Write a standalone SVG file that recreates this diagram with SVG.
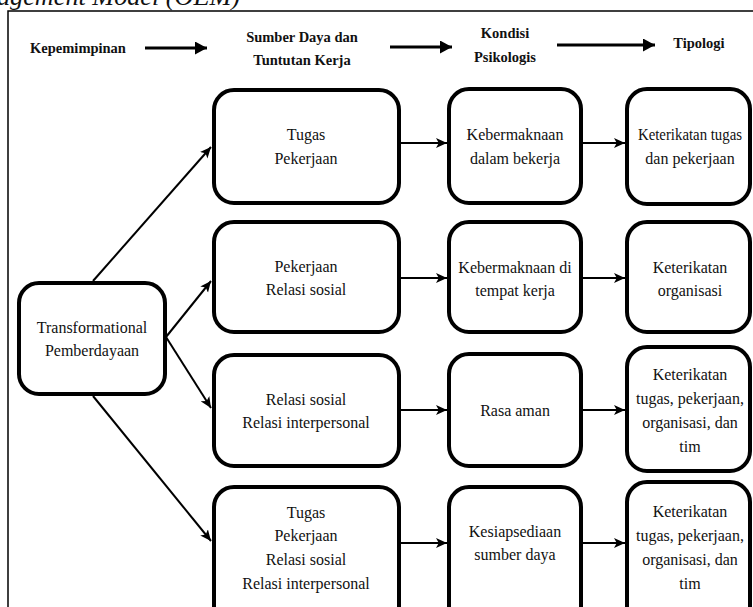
<svg xmlns="http://www.w3.org/2000/svg" width="753" height="607" viewBox="0 0 753 607">
  <style>
    .box { fill: #ffffff; stroke: #000000; stroke-width: 4; }
    .txt { font-family: "Liberation Serif", "Times New Roman", serif; font-size: 16px; fill: #111111; text-anchor: middle; }
    .hdr { font-family: "Liberation Serif", "Times New Roman", serif; font-size: 14.5px; font-weight: bold; fill: #111111; text-anchor: middle; }
    .ttl { font-family: "Liberation Serif", "Times New Roman", serif; font-size: 26px; font-style: italic; fill: #111111; }
    .frame { fill: none; stroke: #000000; stroke-width: 1.5; }
    .con { fill: none; stroke: #000000; stroke-width: 2; marker-end: url(#ah); }
    .hcon { fill: none; stroke: #000000; stroke-width: 3; marker-end: url(#hh); }
  </style>
  <defs>
    <marker id="ah" viewBox="0 0 10 10" refX="10" refY="5" markerWidth="11" markerHeight="11" markerUnits="userSpaceOnUse" orient="auto">
      <path d="M0,0.5 L10,5 L0,9.5 L2.5,5 Z" fill="#000000"/>
    </marker>
    <marker id="hh" viewBox="0 0 12 13" refX="12" refY="6.5" markerWidth="12" markerHeight="13" markerUnits="userSpaceOnUse" orient="auto">
      <path d="M0,0 L12,6.5 L0,13 Z" fill="#000000"/>
    </marker>
  </defs>

  <rect width="753" height="607" fill="#ffffff"/>

  <!-- caption line, cut by the top edge -->
  <text class="ttl" x="-3" y="5" textLength="243" lengthAdjust="spacingAndGlyphs">agement Model (OEM)</text>

  <!-- outer frame -->
  <path class="frame" d="M8,620 L8,11 L760,11"/>

  <!-- column headings -->
  <g id="headings">
    <text class="hdr" x="78" y="53">Kepemimpinan</text>
    <text class="hdr" x="302" y="42">Sumber Daya dan</text>
    <text class="hdr" x="302" y="65">Tuntutan Kerja</text>
    <text class="hdr" x="505" y="38">Kondisi</text>
    <text class="hdr" x="505" y="62">Psikologis</text>
    <text class="hdr" x="699" y="48">Tipologi</text>
  </g>

  <!-- connectors -->
  <g id="connectors">
    <line class="hcon" x1="145" y1="48" x2="207" y2="48"/>
    <line class="hcon" x1="390" y1="47" x2="452" y2="47"/>
    <line class="hcon" x1="557" y1="45" x2="655" y2="45"/>

    <line class="con" x1="93" y1="281" x2="211" y2="147"/>
    <line class="con" x1="166" y1="337" x2="211" y2="281"/>
    <line class="con" x1="166" y1="337" x2="211" y2="408"/>
    <line class="con" x1="93" y1="396" x2="211" y2="541"/>

    <line class="con" x1="401" y1="143" x2="447" y2="143"/>
    <line class="con" x1="401" y1="278" x2="447" y2="278"/>
    <line class="con" x1="401" y1="410" x2="447" y2="410"/>
    <line class="con" x1="401" y1="543" x2="447" y2="543"/>

    <line class="con" x1="583" y1="143" x2="625" y2="143"/>
    <line class="con" x1="583" y1="278" x2="625" y2="278"/>
    <line class="con" x1="583" y1="410" x2="625" y2="410"/>
    <line class="con" x1="583" y1="543" x2="625" y2="543"/>
  </g>

  <!-- leadership -->
  <g id="n-transformational">
    <rect class="box" x="19" y="283" width="146" height="111" rx="20"/>
    <text class="txt" x="92" y="333">Transformational</text>
    <text class="txt" x="92" y="356">Pemberdayaan</text>
  </g>

  <!-- resources and demands -->
  <g id="n-sd1">
    <rect class="box" x="214" y="90" width="185" height="113" rx="20"/>
    <text class="txt" x="306" y="140">Tugas</text>
    <text class="txt" x="306" y="164">Pekerjaan</text>
  </g>
  <g id="n-sd2">
    <rect class="box" x="214" y="222" width="185" height="110" rx="20"/>
    <text class="txt" x="306" y="272">Pekerjaan</text>
    <text class="txt" x="306" y="295">Relasi sosial</text>
  </g>
  <g id="n-sd3">
    <rect class="box" x="214" y="355" width="185" height="111" rx="20"/>
    <text class="txt" x="306" y="405">Relasi sosial</text>
    <text class="txt" x="306" y="428">Relasi interpersonal</text>
  </g>
  <g id="n-sd4">
    <rect class="box" x="214" y="487" width="185" height="140" rx="20"/>
    <text class="txt" x="306" y="518">Tugas</text>
    <text class="txt" x="306" y="541">Pekerjaan</text>
    <text class="txt" x="306" y="565">Relasi sosial</text>
    <text class="txt" x="306" y="589">Relasi interpersonal</text>
  </g>

  <!-- psychological conditions -->
  <g id="n-kp1">
    <rect class="box" x="449" y="89" width="132" height="114" rx="20"/>
    <text class="txt" x="515" y="140">Kebermaknaan</text>
    <text class="txt" x="515" y="164">dalam bekerja</text>
  </g>
  <g id="n-kp2">
    <rect class="box" x="449" y="222" width="132" height="110" rx="20"/>
    <text class="txt" x="515" y="273">Kebermaknaan di</text>
    <text class="txt" x="515" y="296">tempat kerja</text>
  </g>
  <g id="n-kp3">
    <rect class="box" x="449" y="354" width="132" height="112" rx="20"/>
    <text class="txt" x="515" y="416">Rasa aman</text>
  </g>
  <g id="n-kp4">
    <rect class="box" x="449" y="487" width="132" height="140" rx="20"/>
    <text class="txt" x="515" y="537">Kesiapsediaan</text>
    <text class="txt" x="515" y="560">sumber daya</text>
  </g>

  <!-- typology -->
  <g id="n-tp1">
    <rect class="box" x="627" y="89" width="123" height="115" rx="20"/>
    <text class="txt" x="690" y="140" textLength="104" lengthAdjust="spacingAndGlyphs">Keterikatan tugas</text>
    <text class="txt" x="690" y="164">dan pekerjaan</text>
  </g>
  <g id="n-tp2">
    <rect class="box" x="627" y="222" width="123" height="110" rx="20"/>
    <text class="txt" x="690" y="273">Keterikatan</text>
    <text class="txt" x="690" y="296">organisasi</text>
  </g>
  <g id="n-tp3">
    <rect class="box" x="627" y="347" width="123" height="124" rx="20"/>
    <text class="txt" x="690" y="380">Keterikatan</text>
    <text class="txt" x="690" y="404">tugas, pekerjaan,</text>
    <text class="txt" x="690" y="428">organisasi, dan</text>
    <text class="txt" x="690" y="452">tim</text>
  </g>
  <g id="n-tp4">
    <rect class="box" x="627" y="482" width="123" height="145" rx="20"/>
    <text class="txt" x="690" y="517">Keterikatan</text>
    <text class="txt" x="690" y="541">tugas, pekerjaan,</text>
    <text class="txt" x="690" y="565">organisasi, dan</text>
    <text class="txt" x="690" y="589">tim</text>
  </g>
</svg>
